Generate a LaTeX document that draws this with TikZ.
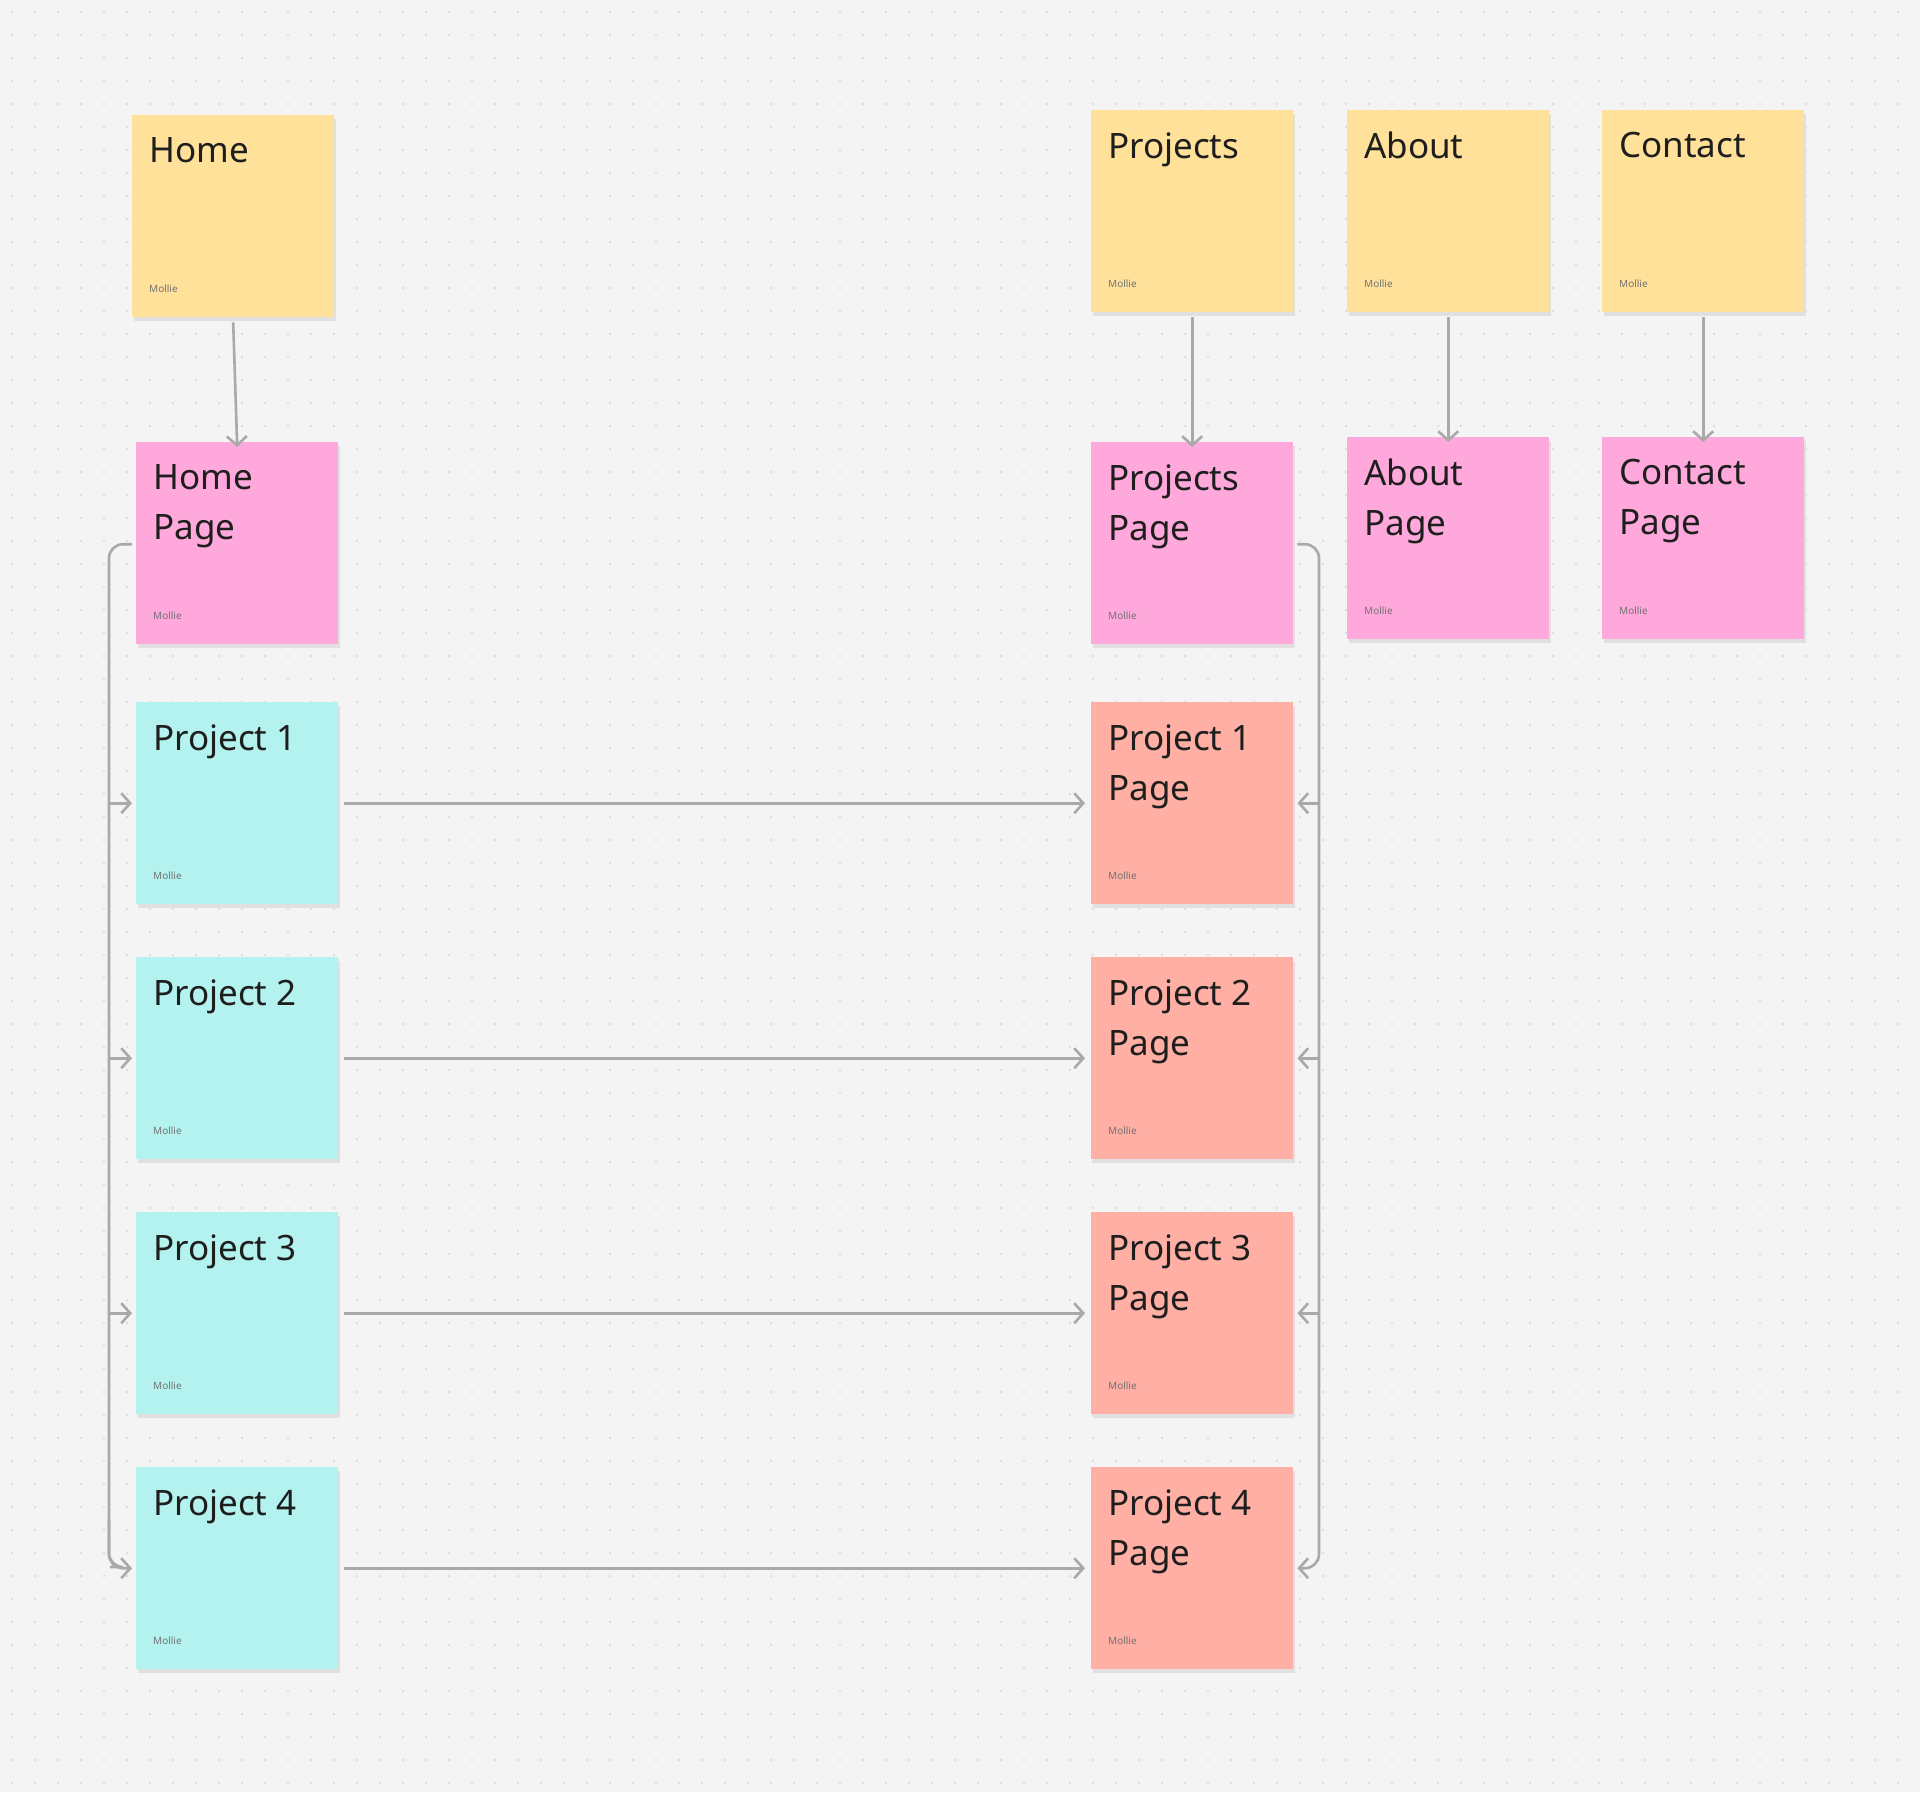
\documentclass[tikz,border=0pt]{standalone}
\usepackage{fontspec}
\setmainfont{Noto Sans}
\usetikzlibrary{arrows.meta}
\definecolor{bg}{HTML}{F4F4F4}
\definecolor{dotc}{HTML}{D6D6D6}
\definecolor{yel}{HTML}{FFE199}
\definecolor{pnk}{HTML}{FFA8DB}
\definecolor{cyn}{HTML}{B3F2EE}
\definecolor{sal}{HTML}{FFAFA3}
\definecolor{ln}{HTML}{A9A9A9}
\definecolor{txt}{HTML}{1E1E1E}
\begin{document}
\begin{tikzpicture}[x=1pt,y=-1pt,
  note/.style={draw=none,minimum width=202pt,minimum height=202pt,inner sep=0pt,anchor=north west,
    drop shadow/.style={}},
  ttl/.style={anchor=north west,align=left,font=\fontsize{35}{50}\selectfont,text=txt,inner sep=0pt},
  who/.style={anchor=south west,font=\fontsize{10}{12}\selectfont,text=black!55,inner sep=0pt},
  con/.style={draw=ln,line width=2.6pt,-{Straight Barb[length=9pt,width=20pt,line width=2.6pt]}},
  lin/.style={draw=ln,line width=2.6pt,rounded corners=14pt}]
\fill[bg] (0,0) rectangle (1920,1792);
\useasboundingbox (0,0) rectangle (1920,1792);
\foreach \i in {0,...,82}{\foreach \j in {0,...,77}{\fill[dotc] (12+23*\i,12+23*\j) circle (1.1pt);}}
% notes
\newcommand\mknote[6]{%
  \fill[black!12] (#2+2,#3+4) rectangle ++(202,202);
  \node[note,fill=#4] (#1) at (#2,#3) {};
  \node[ttl] at (#2+17,#3+22) {#5};
  \node[who] at (#2+17,#3+178) {Mollie};}
\mknote{home}{132}{115}{yel}{Home}{}
\mknote{homep}{136}{442}{pnk}{Home\\Page}{}
\mknote{p1}{136}{702}{cyn}{Project 1}{}
\mknote{p2}{136}{957}{cyn}{Project 2}{}
\mknote{p3}{136}{1212}{cyn}{Project 3}{}
\mknote{p4}{136}{1467}{cyn}{Project 4}{}
\mknote{proj}{1091}{110}{yel}{Projects}{}
\mknote{projp}{1091}{442}{pnk}{Projects\\Page}{}
\mknote{q1}{1091}{702}{sal}{Project 1\\Page}{}
\mknote{q2}{1091}{957}{sal}{Project 2\\Page}{}
\mknote{q3}{1091}{1212}{sal}{Project 3\\Page}{}
\mknote{q4}{1091}{1467}{sal}{Project 4\\Page}{}
\mknote{about}{1347}{110}{yel}{About}{}
\mknote{aboutp}{1347}{437}{pnk}{About\\Page}{}
\mknote{contact}{1602}{110}{yel}{Contact}{}
\mknote{contactp}{1602}{437}{pnk}{Contact\\Page}{}
% vertical connectors
\draw[con] ([yshift=-5pt]home.south) -- ([yshift=-5pt]homep.north);
\draw[con] ([yshift=-5pt]proj.south) -- ([yshift=-5pt]projp.north);
\draw[con] ([yshift=-5pt]about.south) -- ([yshift=-5pt]aboutp.north);
\draw[con] ([yshift=-5pt]contact.south) -- ([yshift=-5pt]contactp.north);
% horizontal
\foreach \a/\b in {p1/q1,p2/q2,p3/q3,p4/q4}{\draw[con] ([xshift=6pt]\a.east) -- ([xshift=-6pt]\b.west);}
% left bracket
\coordinate (lh) at ([yshift=0pt]homep.west);
\draw[lin] ([xshift=-4pt,yshift=-1pt]homep.west) -| (109,1567) -- (110,1567);
\foreach \t in {p1,p2,p3}{\draw[con] (109,0 |- \t.west) -- ([xshift=-4pt]\t.west);}
\draw[con,rounded corners=14pt] (109,1520) |- ([xshift=-4pt]p4.west);
% right bracket
\draw[lin] ([xshift=4pt,yshift=-1pt]projp.east) -| (1319,1520);
\foreach \t in {q1,q2,q3}{\draw[con] (1319,0 |- \t.east) -- ([xshift=4pt]\t.east);}
\draw[con,rounded corners=14pt] (1319,1520) |- ([xshift=4pt]q4.east);
\end{tikzpicture}
\end{document}
